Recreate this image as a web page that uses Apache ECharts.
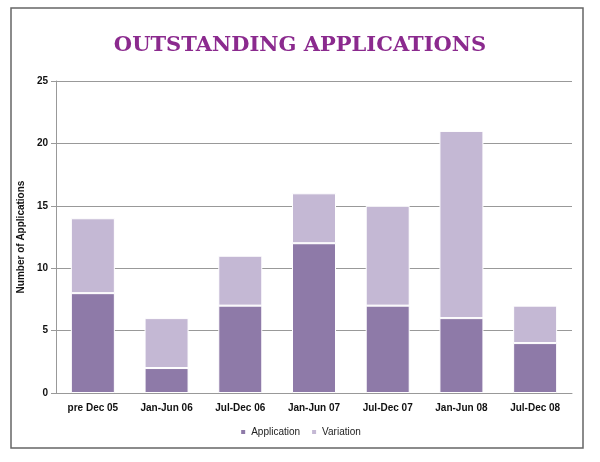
<!DOCTYPE html>
<html>
<head>
<meta charset="UTF-8">
<script src="https://cdn.jsdelivr.net/npm/echarts@6/dist/echarts.min.js"></script>
<style>body{margin:0;background:#fff}#c{width:600px;height:462px}</style>
</head>
<body>
<div id="c"></div>
<script>
var categories = ['pre Dec 05', 'Jan-Jun 06', 'Jul-Dec 06', 'Jan-Jun 07', 'Jul-Dec 07', 'Jan-Jun 08', 'Jul-Dec 08'];
var application = [8, 2, 7, 12, 7, 6, 4];
var variation = [6, 4, 4, 4, 8, 15, 3];

var chart = echarts.init(document.getElementById('c'));
chart.setOption({
    backgroundColor: '#fff',
    title: {
        text: 'OUTSTANDING APPLICATIONS', left: 'center', top: 30,
        textStyle: {fontFamily: 'DejaVu Serif', fontWeight: 'bold', fontSize: 21, color: '#8b2a8e'}
    },
    graphic: [{type: 'rect', shape: {x: 11, y: 8, width: 572, height: 440},
        style: {fill: 'none', stroke: '#666', lineWidth: 1.5}, silent: true}],
    legend: {
        bottom: 20, itemWidth: 6, itemHeight: 6, itemGap: 10, icon: 'rect',
        textStyle: {fontFamily: 'Liberation Sans', fontSize: 10, color: '#222'},
        data: ['Application', 'Variation']
    },
    grid: {left: 56, right: 28, top: 81, bottom: 69},
    xAxis: {
        type: 'category', data: categories,
        axisLine: {lineStyle: {color: '#999'}},
        axisTick: {lineStyle: {color: '#999'}},
        axisLabel: {fontFamily: 'Liberation Sans', fontWeight: 'bold', fontSize: 10, color: '#111', margin: 10}
    },
    yAxis: {
        type: 'value', min: 0, max: 25, interval: 5,
        name: 'Number of Applications', nameLocation: 'middle', nameGap: 26,
        nameTextStyle: {fontFamily: 'Liberation Sans', fontWeight: 'bold', fontSize: 10, color: '#111'},
        axisLine: {show: true, lineStyle: {color: '#999'}},
        axisTick: {show: true, lineStyle: {color: '#999'}},
        splitLine: {lineStyle: {color: '#999'}},
        axisLabel: {fontFamily: 'Liberation Sans', fontWeight: 'bold', fontSize: 10, color: '#111'}
    },
    series: [
        {name: 'Application', type: 'bar', stack: 'a', barWidth: 44, data: application,
         itemStyle: {color: '#8e7aa8', borderColor: '#fff', borderWidth: 1}},
        {name: 'Variation', type: 'bar', stack: 'a', data: variation,
         itemStyle: {color: '#c4b8d4', borderColor: '#fff', borderWidth: 1}}
    ]
});
</script>
</body>
</html>
